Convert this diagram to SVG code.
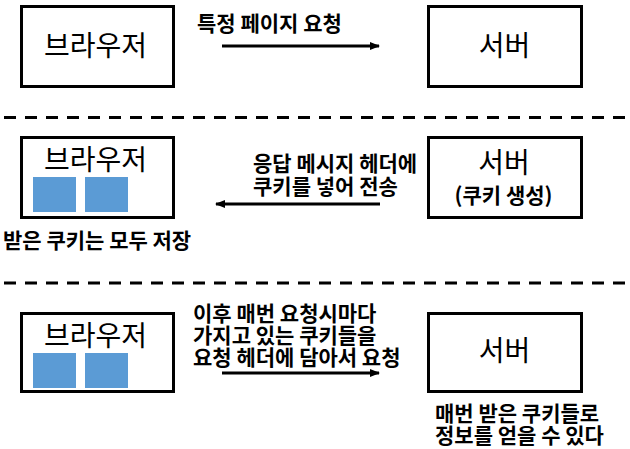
<svg xmlns="http://www.w3.org/2000/svg" width="630" height="449" viewBox="0 0 630 449">
  <style>
    .box { fill: #ffffff; stroke: #000000; stroke-width: 3; }
    .cookie { fill: #5B9BD5; }
    .big { font-family: "Noto Sans CJK KR", "Noto Sans", sans-serif; font-size: 28px; font-weight: 400; fill: #000; text-anchor: middle; }
    .lbl { font-family: "Noto Sans CJK KR", "Noto Sans", sans-serif; font-size: 21px; font-weight: 700; fill: #000; }
    .mid { text-anchor: middle; }
    .conn { stroke: #000; stroke-width: 3; fill: none; marker-end: url(#ah); }
    .sep { stroke: #000; stroke-width: 3; stroke-dasharray: 12 9; fill: none; }
  </style>
  <defs>
    <marker id="ah" markerWidth="10" markerHeight="10" refX="9" refY="5" orient="auto" markerUnits="userSpaceOnUse">
      <path d="M0,1 L10,5 L0,9 Z" fill="#000"/>
    </marker>
  </defs>
  <rect width="630" height="449" fill="#ffffff"/>

  <!-- separators -->
  <g id="separators">
    <line class="sep" x1="4" y1="117.5" x2="630" y2="117.5"/>
    <line class="sep" x1="4" y1="283" x2="630" y2="283"/>
  </g>

  <!-- row 1 -->
  <g id="browser1">
    <rect class="box" x="21.5" y="6.5" width="152" height="80"/>
    <text class="big" x="95.5" y="56">브라우저</text>
  </g>
  <g id="server1">
    <rect class="box" x="428.5" y="6.5" width="153" height="80"/>
    <text class="big" x="504.5" y="56">서버</text>
  </g>

  <!-- row 2 -->
  <g id="browser2">
    <rect class="box" x="21.5" y="137.5" width="152" height="80"/>
    <text class="big" x="95.5" y="170">브라우저</text>
    <rect class="cookie" x="33" y="177" width="43" height="35"/>
    <rect class="cookie" x="85" y="177" width="43" height="35"/>
  </g>
  <g id="server2">
    <rect class="box" x="428.5" y="137.5" width="153" height="80"/>
    <text class="big" x="504" y="173">서버</text>
    <text class="lbl mid" x="503.5" y="203">(쿠키 생성)</text>
  </g>
  <text class="lbl" x="3" y="248">받은 쿠키는 모두 저장</text>

  <!-- row 3 -->
  <g id="browser3">
    <rect class="box" x="21.5" y="313.5" width="152" height="78"/>
    <text class="big" x="95.5" y="346">브라우저</text>
    <rect class="cookie" x="33" y="353" width="43" height="35"/>
    <rect class="cookie" x="85" y="353" width="43" height="35"/>
  </g>
  <g id="server3">
    <rect class="box" x="428.5" y="313.5" width="153" height="78"/>
    <text class="big" x="504.5" y="361">서버</text>
  </g>
  <text class="lbl"><tspan x="435" y="421">매번 받은 쿠키들로</tspan><tspan x="435" y="443">정보를 얻을 수 있다</tspan></text>

  <!-- connectors -->
  <g id="connectors">
    <line class="conn" x1="222" y1="46" x2="379" y2="46"/>
    <line class="conn" x1="380" y1="204" x2="216" y2="204"/>
    <line class="conn" x1="222" y1="373" x2="379" y2="373"/>
  </g>
  <g id="connector-labels">
    <text class="lbl" x="197" y="31">특정 페이지 요청</text>
    <text class="lbl"><tspan x="253" y="171">응답 메시지 헤더에</tspan><tspan x="253" y="194">쿠키를 넣어 전송</tspan></text>
    <text class="lbl"><tspan x="193" y="321">이후 매번 요청시마다</tspan><tspan x="193" y="343">가지고 있는 쿠키들을</tspan><tspan x="193" y="365">요청 헤더에 담아서 요청</tspan></text>
  </g>
</svg>
